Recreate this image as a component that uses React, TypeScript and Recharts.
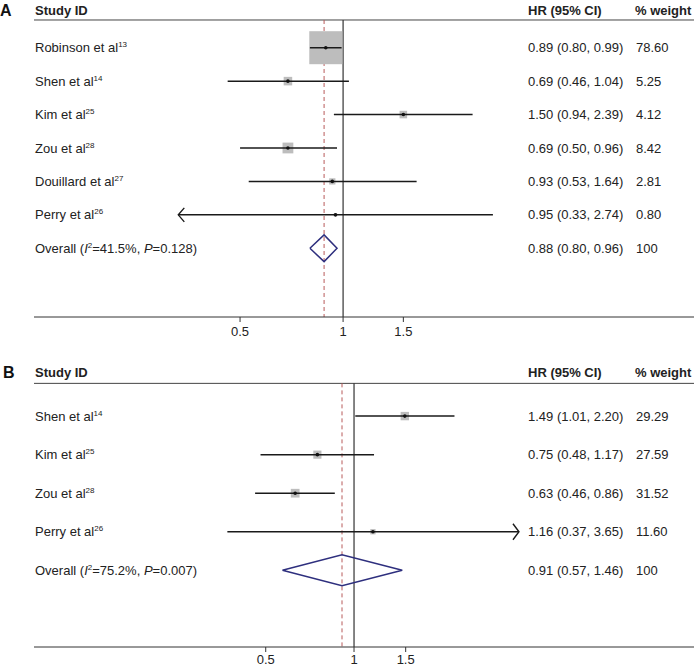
import React from "react";
import {
  ComposedChart,
  XAxis,
  YAxis,
  Scatter,
  ErrorBar,
  ReferenceLine,
  ReferenceDot,
  Line,
} from "recharts";

// panel A
const studiesA = ["Robinson et al", "Shen et al", "Kim et al", "Zou et al", "Douillard et al", "Perry et al"];
const refsA = ["13", "14", "25", "28", "27", "26"];
const hrA = [0.89, 0.69, 1.5, 0.69, 0.93, 0.95];
const lowA = [0.8, 0.46, 0.94, 0.5, 0.53, 0.33];
const highA = [0.99, 1.04, 2.39, 0.96, 1.64, 2.74];
const weightA = [78.6, 5.25, 4.12, 8.42, 2.81, 0.8];
const overallA = [0.88, 0.8, 0.96];
const hetA = ["41.5%", "0.128"];

// panel B
const studiesB = ["Shen et al", "Kim et al", "Zou et al", "Perry et al"];
const refsB = ["14", "25", "28", "26"];
const hrB = [1.49, 0.75, 0.63, 1.16];
const lowB = [1.01, 0.48, 0.46, 0.37];
const highB = [2.2, 1.17, 0.86, 3.65];
const weightB = [29.29, 27.59, 31.52, 11.6];
const overallB = [0.91, 0.57, 1.46];
const hetB = ["75.2%", "0.007"];

const xTicks = [0.5, 1, 1.5];
const arrowBounds = [1 / 3, 3];

const FONT = '"Liberation Sans", Arial, sans-serif';
const TEXT = "#222";
const NAME_X = 35;
const HR_X = 528;
const W_X = 636;

const fmt = (v: number) => v.toFixed(2);

interface PanelProps {
  letter: string;
  letterX: number;
  studies: string[];
  refs: string[];
  hr: number[];
  low: number[];
  high: number[];
  weight: number[];
  overall: number[];
  het: string[];
  height: number;
  axisHeight: number;
  tickGap: number;
  xDomain: [number, number];
  yDomain: [number, number];
  headerY: number;
  headerLine: number;
  boxScale: number;
}

function ForestPanel(p: PanelProps) {
  const rows = p.studies.map((s, i) => ({
    x: p.hr[i],
    y: i,
    err: [p.hr[i] - p.low[i], p.high[i] - p.hr[i]],
    w: p.weight[i],
  }));
  const n = p.studies.length;
  const [est, lo, hi] = p.overall;
  const diamond = [
    { x: lo, y: n },
    { x: est, y: n - 0.4 },
    { x: hi, y: n },
    { x: est, y: n + 0.4 },
    { x: lo, y: n },
  ];
  const yTicks = [p.headerY, ...rows.map((r) => r.y), n];

  const renderTick = (props: any) => {
    const { y, payload } = props;
    const v = payload.value;
    const common = { fontFamily: FONT, fontSize: 13, fill: TEXT, dy: "0.35em" };
    if (v < -0.5) {
      return (
        <g>
          <text x={p.letterX} y={y} {...common} fontSize={16} fontWeight={700} fill="#111">
            {p.letter}
          </text>
          <text x={NAME_X} y={y} {...common} fontWeight={700}>Study ID</text>
          <text x={HR_X} y={y} {...common} fontWeight={700}>HR (95% CI)</text>
          <text x={W_X - 1} y={y} {...common} fontWeight={700}>% weight</text>
        </g>
      );
    }
    if (v === n) {
      return (
        <g>
          <text x={NAME_X} y={y} {...common}>
            Overall (<tspan fontStyle="italic">I</tspan>
            <tspan fontSize={8} dy={-5}>2</tspan>
            <tspan dy={5}>={p.het[0]}, </tspan>
            <tspan fontStyle="italic">P</tspan>={p.het[1]})
          </text>
          <text x={HR_X} y={y} {...common}>
            {`${fmt(est)} (${fmt(lo)}, ${fmt(hi)})`}
          </text>
          <text x={W_X} y={y} {...common}>100</text>
        </g>
      );
    }
    const i = v;
    return (
      <g>
        <text x={NAME_X} y={y} {...common}>
          {p.studies[i]}
          <tspan fontSize={8} dy={-5}>{p.refs[i]}</tspan>
        </text>
        <text x={HR_X} y={y} {...common}>
          {`${fmt(p.hr[i])} (${fmt(p.low[i])}, ${fmt(p.high[i])})`}
        </text>
        <text x={W_X} y={y} {...common}>{fmt(p.weight[i])}</text>
      </g>
    );
  };

  const Box = (props: any) => {
    const { cx, cy, payload } = props;
    const s = p.boxScale * Math.sqrt(payload.w);
    return <rect x={cx - s / 2} y={cy - s / 2} width={s} height={s} fill="#bdbdbd" />;
  };

  const Dot = (props: any) => <circle cx={props.cx} cy={props.cy} r={1.8} fill="#111" />;

  const LeftArrow = (props: any) => (
    <path
      d={`M${props.cx + 6},${props.cy - 7} L${props.cx},${props.cy} L${props.cx + 6},${props.cy + 7}`}
      fill="none"
      stroke="#1a1a1a"
      strokeWidth={1.4}
    />
  );
  const RightArrow = (props: any) => (
    <path
      d={`M${props.cx - 6},${props.cy - 8} L${props.cx},${props.cy} L${props.cx - 6},${props.cy + 8}`}
      fill="none"
      stroke="#1a1a1a"
      strokeWidth={1.4}
    />
  );

  return (
    <ComposedChart
      width={694}
      height={p.height}
      margin={{ top: 0, right: 0, bottom: 0, left: 0 }}
      style={{ display: "block" }}
    >
      <XAxis
        dataKey="x"
        type="number"
        scale="log"
        domain={p.xDomain}
        allowDataOverflow
        ticks={xTicks}
        interval={0}
        height={p.axisHeight}
        tickSize={5}
        tickMargin={p.tickGap}
        axisLine={{ stroke: "#333", strokeWidth: 1 }}
        tickLine={{ stroke: "#333" }}
        tick={{ fontSize: 13, fill: TEXT, fontFamily: FONT }}
      />
      <YAxis
        dataKey="y"
        type="number"
        domain={p.yDomain}
        allowDataOverflow
        reversed
        width={34}
        ticks={yTicks}
        interval={0}
        axisLine={false}
        tickLine={false}
        tick={renderTick}
      />
      <ReferenceLine y={p.headerLine} stroke="#444" strokeWidth={1} zIndex={10} />
      <ReferenceLine
        segment={[
          { x: 1, y: p.headerLine },
          { x: 1, y: p.yDomain[1] },
        ]}
        stroke="#333"
        strokeWidth={1.2}
        zIndex={10}
      />
      <ReferenceLine
        segment={[
          { x: est, y: p.headerLine },
          { x: est, y: p.yDomain[1] },
        ]}
        stroke="#b85a5a"
        strokeWidth={1}
        strokeDasharray="4 3"
        zIndex={10}
      />
      <Scatter data={rows} shape={<Box />} isAnimationActive={false} zIndex={100} />
      <Scatter data={rows} shape={<Dot />} isAnimationActive={false} zIndex={300}>
        <ErrorBar
          dataKey="err"
          direction="x"
          width={0}
          stroke="#1a1a1a"
          strokeWidth={1.5}
          isAnimationActive={false}
          zIndex={200}
        />
      </Scatter>
      {rows
        .filter((r) => p.low[r.y] < arrowBounds[0])
        .map((r) => (
          <ReferenceDot key={`l${r.y}`} x={p.low[r.y]} y={r.y} shape={<LeftArrow />} zIndex={200} />
        ))}
      {rows
        .filter((r) => p.high[r.y] > arrowBounds[1])
        .map((r) => (
          <ReferenceDot key={`r${r.y}`} x={p.high[r.y]} y={r.y} shape={<RightArrow />} zIndex={200} />
        ))}
      <Line
        data={diamond}
        dataKey="y"
        stroke="#2e2f7e"
        strokeWidth={1.5}
        strokeLinejoin="miter"
        dot={false}
        activeDot={false}
        isAnimationActive={false}
        zIndex={200}
      />
    </ComposedChart>
  );
}

export default function App() {
  return (
    <div
      style={{
        position: "absolute",
        left: 0,
        top: 0,
        width: 694,
        height: 666,
        background: "#fff",
        overflow: "hidden",
      }}
    >
      <ForestPanel
        letter="A"
        letterX={0}
        studies={studiesA}
        refs={refsA}
        hr={hrA}
        low={lowA}
        high={highA}
        weight={weightA}
        overall={overallA}
        het={hetA}
        height={340}
        axisHeight={23}
        tickGap={5}
        xDomain={[0.125, 10.6]}
        yDomain={[-1.427, 8.056]}
        headerY={-1.128}
        headerLine={-0.829}
        boxScale={3.72}
      />
      <ForestPanel
        letter="B"
        letterX={3}
        studies={studiesB}
        refs={refsB}
        hr={hrB}
        low={lowB}
        high={highB}
        weight={weightB}
        overall={overallB}
        het={hetB}
        height={326}
        axisHeight={19}
        tickGap={3}
        xDomain={[0.0811, 14.42]}
        yDomain={[-1.974, 5.99]}
        headerY={-1.13}
        headerLine={-0.849}
        boxScale={1.55}
      />
    </div>
  );
}
